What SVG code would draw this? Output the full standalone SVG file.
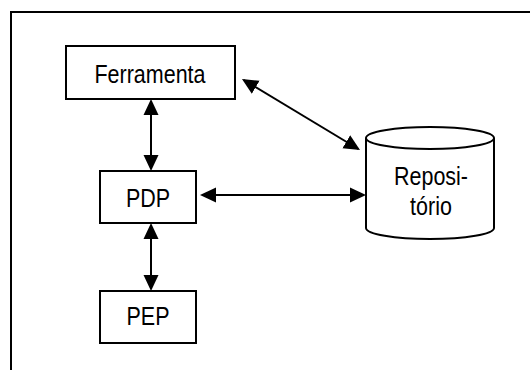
<svg xmlns="http://www.w3.org/2000/svg" width="530" height="370" viewBox="0 0 530 370">
  <style>
    .box { fill: #fff; stroke: #000; stroke-width: 2; }
    .lbl { font-family: "Liberation Sans", Arial, sans-serif; font-size: 25px; fill: #000; text-anchor: middle; }
    .conn { stroke: #000; stroke-width: 2; fill: none; marker-start: url(#head); marker-end: url(#head); }
    .frame { stroke: #000; stroke-width: 2; fill: none; }
  </style>
  <defs>
    <marker id="head" markerUnits="userSpaceOnUse" markerWidth="16" markerHeight="16" viewBox="0 0 16 16" refX="14" refY="8" orient="auto-start-reverse">
      <path d="M0,0.5 L16,8 L0,15.5 Z" fill="#000"/>
    </marker>
  </defs>
  <rect width="530" height="370" fill="#fff"/>

  <!-- page frame (top and left edges) -->
  <path class="frame" d="M11,370 L11,12 L530,12"/>

  <!-- connectors -->
  <g id="connectors">
    <line class="conn" x1="151" y1="101" x2="151" y2="169"/>
    <line class="conn" x1="151" y1="225" x2="151" y2="289"/>
    <line class="conn" x1="202" y1="195" x2="364" y2="195"/>
    <line class="conn" x1="243.7" y1="80" x2="358.3" y2="149"/>
  </g>

  <!-- labels use a narrowed sans face -->
  <g id="ferramenta">
    <rect class="box" x="66" y="46" width="169" height="53"/>
    <text class="lbl" transform="translate(150,83) scale(0.86,1)">Ferramenta</text>
  </g>

  <g id="pdp">
    <rect class="box" x="100" y="171" width="96" height="52"/>
    <text class="lbl" transform="translate(148,207) scale(0.86,1)">PDP</text>
  </g>

  <g id="pep">
    <rect class="box" x="100" y="291" width="96" height="52"/>
    <text class="lbl" transform="translate(148,325) scale(0.86,1)">PEP</text>
  </g>

  <g id="repositorio">
    <path class="box" d="M366,138 L366,228 A64,11 0 0 0 494,228 L494,138"/>
    <ellipse class="box" cx="430" cy="138" rx="64" ry="11"/>
    <text class="lbl" transform="translate(431,185) scale(0.86,1)">Reposi-</text>
    <text class="lbl" transform="translate(431,215) scale(0.86,1)">tório</text>
  </g>
</svg>
